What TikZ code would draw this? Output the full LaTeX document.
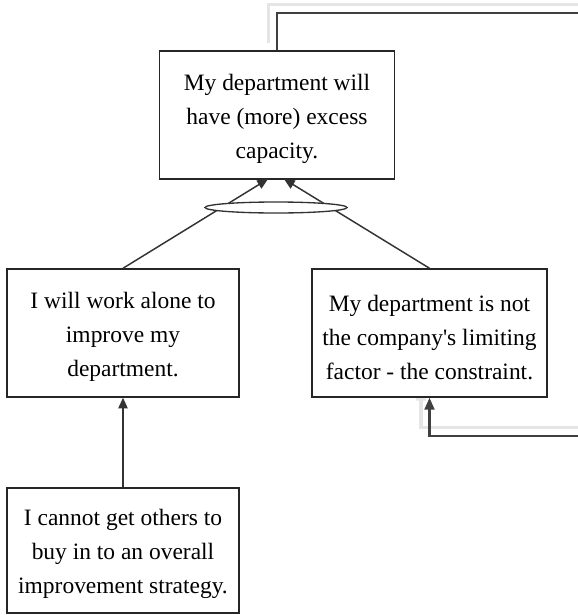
\documentclass[tikz,border=0pt]{standalone}
\usepackage{fontspec}
\setmainfont{Liberation Serif}
\usetikzlibrary{shapes.geometric,arrows.meta,calc}
\begin{document}
\begin{tikzpicture}[x=0.75pt,y=-0.75pt,
  box/.style={draw=black!85,line width=1.1pt,fill=white,
    minimum width=176pt,minimum height=96pt,inner sep=0pt},
  txt/.style={align=center,inner sep=0pt,
    font=\fontsize{17.6}{25.5}\selectfont},
  conn/.style={draw=black!80,line width=1.1pt,
    -{Triangle[length=8pt,width=7pt]}},
  loopline/.style={draw=black!75,line width=1.6pt,
    -{Triangle[length=9pt,width=7.5pt]}},
  shadowline/.style={draw=black!10,line width=2.8pt,
    -{Triangle[length=9pt,width=7.5pt,fill=black!10]}},
  andell/.style={ellipse,draw=black!80,line width=1pt,fill=white,
    minimum width=106.5pt,minimum height=8.25pt,inner sep=0pt}]
\useasboundingbox (0,0) rectangle (578,615);
\clip (0,0) rectangle (578,615);
% feedback loop (shadow first)
\coordinate (c1) at (590,13);
\coordinate (c2) at (590,436);
\begin{scope}[shift={(-8.5,-8.5)}]
  \coordinate (s0) at (277,51);
  \coordinate (s1) at (590,13);
  \coordinate (s2) at (590,436);
  \coordinate (s3) at (429.5,397);
  \draw[shadowline] (s0) -- (s0 |- s1) -- (s1) -- (s2) -- (s2 -| s3) -- (s3);
\end{scope}
% boxes
\node[box] (tb) at (277,115) {};
\node[box,minimum width=174pt] (lb) at (123,333) {};
\node[box] (rb) at (429.5,333) {};
\node[box,minimum width=174pt,minimum height=94pt] (bb) at (123,550.5) {};
% texts
\node[txt] (tbt) at ($(tb.center)+(0,4)$) {My department will\\have (more) excess\\capacity.};
\node[txt] (lbt) at ($(lb.center)+(0,4)$) {I will work alone to\\improve my\\department.};
\node[txt] (rbt) at ($(rb.center)+(0,5)$) {My department is not\\the company\textquotesingle s limiting\\factor - the constraint.};
\node[txt] (bbt) at ($(bb.center)+(0,3)$) {I cannot get others to\\buy in to an overall\\improvement strategy.};
% loop
\draw[loopline] (tb.north) -- (tb.north |- c1) -- (c1) -- (c2) -- (c2 -| rb.south) -- (rb.south);
% AND connectors
\coordinate (t1) at (268,179);
\coordinate (t2) at (284,179);
\draw[conn] (lb.north) -- (t1);
\draw[conn] (rb.north) -- (t2);
\node[andell] (and) at (276,207.5) {};
% bottom to left
\draw[conn] (bb.north) -- (lb.south);
\end{tikzpicture}
\end{document}
